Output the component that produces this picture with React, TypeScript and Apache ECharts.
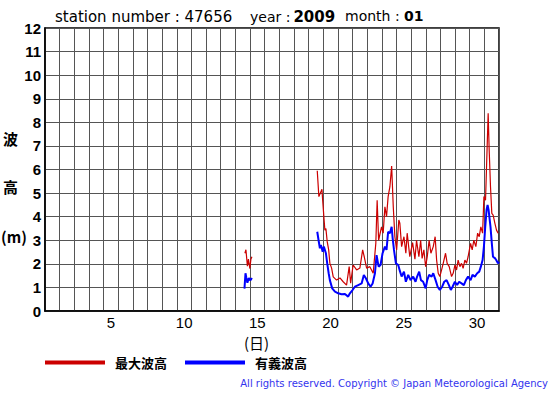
import React, { useEffect, useRef } from "react";
import * as echarts from "echarts";

// x values: days elapsed since 1 Jan 00:00 (axis 0..31), y: wave height (m)
const days = Array.from({ length: 31 }, (_, i) => String(i + 1));
const yTicks = [0, 1, 2, 3, 4, 5, 6, 7, 8, 9, 10, 11, 12];

const maxWaveT = [
  13.65, 13.72, 13.82, 13.89, 13.99, 14.06, 14.13, 14.2,
  18.59, 18.7, 18.91, 18.96, 19.04, 19.11, 19.18, 19.27, 19.37, 19.45, 19.57, 19.68, 19.91,
  20.14, 20.36, 20.59, 20.77, 20.87, 21.04, 21.28, 21.5, 21.69, 21.8, 21.96, 22.18, 22.41,
  22.59, 22.68, 22.78, 22.98, 23.09, 23.21, 23.32, 23.43, 23.55, 23.67, 23.78, 23.89, 24.01,
  24.16, 24.23, 24.35, 24.51, 24.64, 24.73, 24.91, 25.1, 25.26, 25.37, 25.53, 25.65, 25.75,
  25.87, 25.99, 26.1, 26.23, 26.35, 26.51, 26.64, 26.74, 26.85, 26.96, 27.08, 27.19, 27.35,
  27.46, 27.6, 27.76, 27.87, 27.99, 28.1, 28.21, 28.33, 28.44, 28.55, 28.67, 28.78, 28.89,
  29.06, 29.17, 29.28, 29.42, 29.54, 29.65, 29.76, 29.88, 29.97, 30.08, 30.15, 30.26, 30.33,
  30.42, 30.51, 30.6, 30.72, 30.83, 30.94,
];
const maxWaveH: (number | null)[] = [
  2.45, 2.6, 1.9, 2.2, 1.8, 2.2, 2.3, null,
  5.95, 4.85, 5.16, 4.7, 4.0, 3.43, 3.5, 2.94, 2.59, 2.03, 1.82, 1.45, 1.31,
  1.4, 1.24, 1.1, 1.88, 1.18, 1.95, 1.74, 1.82, 2.59, 2.3, 1.82, 1.88, 1.6,
  2.88, 4.7, 3.0, 3.57, 3.3, 4.42, 4.0, 4.85, 5.27, 6.15, 4.42, 3.15, 2.59,
  3.86, 3.72, 2.73, 3.15, 2.45, 3.3, 2.3, 2.9, 2.2, 3.0, 2.3, 3.0, 2.23,
  2.59, 1.88, 2.3, 3.0, 2.45, 2.73, 3.15, 2.16, 1.6, 1.46, 1.74, 2.02, 2.45,
  2.02, 1.88, 1.46, 1.6, 1.95, 1.74, 2.16, 1.88, 2.02, 1.81, 2.16, 2.02, 2.3,
  2.87, 2.59, 3.0, 2.73, 3.3, 3.15, 3.57, 3.3, 4.85, 4.7, 6.12, 8.38, 6.83,
  5.27, 4.14, 4.07, 3.72, 3.43, 3.3,
];

const sigWaveT = [
  13.62, 13.69, 13.75, 13.82, 13.92, 14.03, 14.13, 14.2,
  18.59, 18.68, 18.77, 18.84, 18.96, 19.04, 19.18, 19.27, 19.37, 19.45, 19.61, 19.8, 20.02,
  20.25, 20.48, 20.7, 20.82, 21.0, 21.16, 21.39, 21.62, 21.77, 21.91, 22.07, 22.23, 22.37,
  22.53, 22.64, 22.78, 22.91, 23.05, 23.21, 23.32, 23.43, 23.55, 23.67, 23.74, 23.83, 23.96,
  24.12, 24.23, 24.35, 24.51, 24.64, 24.8, 24.96, 25.14, 25.3, 25.41, 25.55, 25.67, 25.82,
  25.99, 26.1, 26.23, 26.4, 26.51, 26.67, 26.81, 26.96, 27.12, 27.26, 27.42, 27.58, 27.71,
  27.83, 27.99, 28.14, 28.28, 28.44, 28.6, 28.74, 28.89, 29.06, 29.19, 29.35, 29.51, 29.65,
  29.76, 29.88, 29.97, 30.06, 30.15, 30.22, 30.29, 30.42, 30.51, 30.59, 30.74, 30.81, 30.93,
  31.0,
];
const sigWaveH: (number | null)[] = [
  0.95, 1.6, 1.4, 1.2, 1.4, 1.3, 1.4, null,
  3.36, 3.0, 2.66, 2.8, 2.51, 2.73, 2.45, 2.02, 1.6, 1.31, 0.96, 0.82, 0.75,
  0.71, 0.72, 0.61, 0.75, 0.89, 1.03, 1.1, 1.17, 1.53, 1.39, 1.17, 1.03, 1.17,
  1.6, 2.37, 1.88, 1.95, 2.45, 2.73, 2.59, 3.36, 3.3, 3.57, 3.08, 2.59, 2.02,
  1.95, 1.7, 1.46, 1.67, 1.24, 1.53, 1.31, 1.46, 1.24, 1.46, 1.67, 1.31, 1.24,
  0.96, 1.31, 1.53, 1.46, 1.6, 1.31, 1.03, 0.89, 1.03, 1.24, 1.31, 1.1, 0.89,
  1.03, 1.24, 1.1, 1.24, 1.17, 1.1, 1.31, 1.46, 1.31, 1.53, 1.46, 1.6, 1.67,
  1.88, 2.16, 2.73, 3.57, 4.28, 4.5, 4.28, 3.57, 2.87, 2.3, 2.23, 2.16, 2.02,
  2.09,
];

const FONT = "'Liberation Sans', Arial, sans-serif";
const WIDE = "'DejaVu Sans', sans-serif";
const CJK = "'Noto Sans CJK JP', sans-serif";

export default function App() {
  const ref = useRef<HTMLDivElement>(null);
  useEffect(() => {
    if (!ref.current) return;
    const chart = echarts.init(ref.current, null, { renderer: "svg" });
    const pairs = (t: number[], h: (number | null)[]) => t.map((x, i) => [x, h[i] === null ? "-" : h[i]]);
    const titleRich = {
      n: { fontSize: 14, fontFamily: WIDE, color: "#000" },
      b: { fontSize: 15, fontFamily: WIDE, fontWeight: "bold", color: "#000", padding: [0, 0, 0, 3] },
      m: { fontSize: 14, fontFamily: WIDE, fontWeight: "bold", color: "#000" },
    };
    chart.setOption({
      animation: false,
      backgroundColor: "#fff",
      textStyle: { fontFamily: FONT },
      grid: { left: 45, top: 28, right: 56, bottom: 84, show: true, borderColor: "#000", borderWidth: 1.5 },
      legend: {
        left: 45,
        top: 356,
        padding: 0,
        icon: "rect",
        itemWidth: 60,
        itemHeight: 4,
        itemGap: 18,
        textStyle: { fontSize: 13, fontWeight: "bold", color: "#000", fontFamily: CJK, padding: [0, 0, 0, 5] },
        data: ["最大波高", "有義波高"],
      },
      xAxis: [
        {
          type: "category",
          data: days,
          boundaryGap: true,
          axisLine: { show: true, lineStyle: { color: "#000", width: 1.5 } },
          axisTick: { show: false },
          axisLabel: {
            interval: (i: number, v: string) => Number(v) % 5 === 0,
            fontSize: 15,
            lineHeight: 13,
            color: "#000",
            margin: 5,
            fontFamily: FONT,
          },
          splitLine: { show: true, interval: 0, lineStyle: { color: "#555", width: 1 } },
        },
        { type: "value", min: 0, max: 31, show: false },
      ],
      yAxis: {
        type: "value",
        min: 0,
        max: 12,
        interval: 1,
        axisLine: { show: true, lineStyle: { color: "#000", width: 1.5 } },
        axisTick: { show: false },
        axisLabel: {
          fontSize: 15,
          fontWeight: "bold",
          color: "#000",
          margin: 4,
          fontFamily: FONT,
          formatter: (v: number) => (yTicks.includes(v) ? String(v) : ""),
        },
        splitLine: { show: true, lineStyle: { color: "#555", width: 1 } },
      },
      series: [
        {
          name: "最大波高",
          type: "line",
          xAxisIndex: 1,
          data: pairs(maxWaveT, maxWaveH),
          showSymbol: false,
          connectNulls: false,
          color: "#cc0000",
          lineStyle: { color: "#cc0000", width: 1.2 },
        },
        {
          name: "有義波高",
          type: "line",
          xAxisIndex: 1,
          data: pairs(sigWaveT, sigWaveH),
          showSymbol: false,
          connectNulls: false,
          color: "#0000ff",
          lineStyle: { color: "#0000ff", width: 2 },
        },
      ],
      graphic: [
        { type: "text", left: 55, top: 9, style: { text: "station number : 47656", fontSize: 15, fill: "#000", fontFamily: WIDE } },
        { type: "text", left: 250, top: 9, style: { text: "{n|year :}{b|2009}", rich: titleRich, fontSize: 14 } },
        { type: "text", left: 345, top: 9, style: { text: "{n|month : }{m|01}", rich: titleRich, fontSize: 14 } },
        { type: "text", left: 3, top: 131, style: { text: "波", fontSize: 15, fontWeight: "bold", fill: "#000", fontFamily: CJK } },
        { type: "text", left: 3, top: 179, style: { text: "高", fontSize: 15, fontWeight: "bold", fill: "#000", fontFamily: CJK } },
        { type: "text", left: 1, top: 229, style: { text: "(m)", fontSize: 15, fontWeight: "bold", fill: "#000", fontFamily: CJK } },
        { type: "text", left: 244, top: 335, style: { text: "(日)", fontSize: 15, lineHeight: 15, fill: "#000", fontFamily: CJK } },
        {
          type: "text",
          right: 7,
          top: 378,
          style: { text: "All rights reserved. Copyright © Japan Meteorological Agency", fontSize: 10, fill: "#3333ee", fontFamily: WIDE },
        },
      ],
    });
    return () => chart.dispose();
  }, []);
  return <div ref={ref} style={{ width: 555, height: 395, position: "absolute", left: 0, top: 0 }} />;
}
